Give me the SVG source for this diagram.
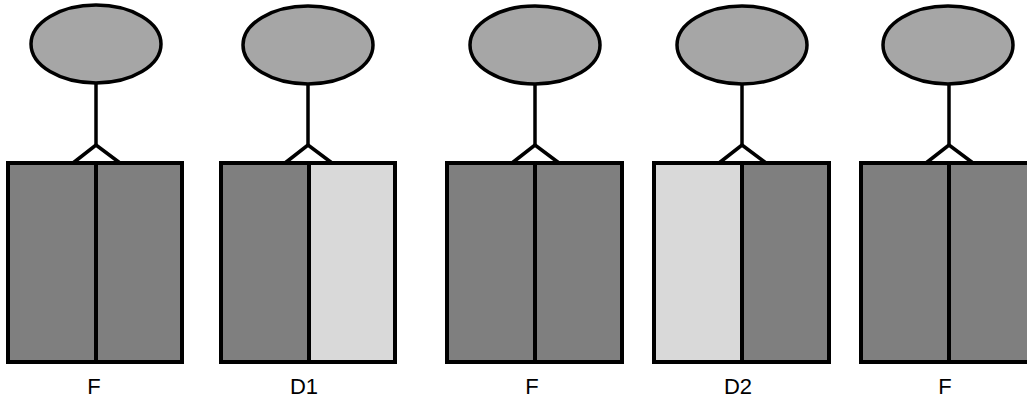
<svg xmlns="http://www.w3.org/2000/svg" width="1027" height="401" viewBox="0 0 1027 401">
  <style>
    .bg { fill: #ffffff; }
    .head { fill: #a6a6a6; stroke: #000; stroke-width: 3.5; }
    .dark { fill: #7f7f7f; }
    .light { fill: #d9d9d9; }
    .frame { fill: none; stroke: #000; stroke-width: 4; }
    .div { stroke: #000; stroke-width: 4; }
    .link { fill: none; stroke: #000; stroke-width: 3.5; stroke-linejoin: miter; }
    .label { font-family: "Liberation Sans", Arial, sans-serif; font-size: 22px; fill: #000; text-anchor: middle; }
  </style>
  <rect class="bg" x="0" y="0" width="1027" height="401"/>

  <!-- stems and forks joining each head to its block -->
  <g id="connectors">
    <polyline class="link" points="96,83 96,145"/>
    <polyline class="link" points="73,163 96,145 120,163"/>
    <polyline class="link" points="308,84 308,145"/>
    <polyline class="link" points="285,163 308,145 332,163"/>
    <polyline class="link" points="535,84 535,145"/>
    <polyline class="link" points="512,163 535,145 559,163"/>
    <polyline class="link" points="742,84 742,145"/>
    <polyline class="link" points="719,163 742,145 766,163"/>
    <polyline class="link" points="949,84 949,145"/>
    <polyline class="link" points="926,163 949,145 973,163"/>
  </g>

  <g id="unit-1">
    <ellipse class="head" cx="96" cy="44" rx="65" ry="39"/>
    <rect class="dark" x="8" y="163" width="88" height="199"/>
    <rect class="dark" x="96" y="163" width="86" height="199"/>
    <rect class="frame" x="8" y="163" width="174" height="199"/>
    <line class="div" x1="96" y1="163" x2="96" y2="362"/>
    <text class="label" x="94" y="394">F</text>
  </g>

  <g id="unit-2">
    <ellipse class="head" cx="308" cy="45" rx="65" ry="39"/>
    <rect class="dark" x="221" y="163" width="88" height="199"/>
    <rect class="light" x="309" y="163" width="86" height="199"/>
    <rect class="frame" x="221" y="163" width="174" height="199"/>
    <line class="div" x1="309" y1="163" x2="309" y2="362"/>
    <text class="label" x="304" y="394">D1</text>
  </g>

  <g id="unit-3">
    <ellipse class="head" cx="535" cy="45" rx="65" ry="39"/>
    <rect class="dark" x="447" y="163" width="88" height="199"/>
    <rect class="dark" x="535" y="163" width="87" height="199"/>
    <rect class="frame" x="447" y="163" width="175" height="199"/>
    <line class="div" x1="535" y1="163" x2="535" y2="362"/>
    <text class="label" x="532" y="394">F</text>
  </g>

  <g id="unit-4">
    <ellipse class="head" cx="742" cy="45" rx="65" ry="39"/>
    <rect class="light" x="654" y="163" width="88" height="199"/>
    <rect class="dark" x="742" y="163" width="87" height="199"/>
    <rect class="frame" x="654" y="163" width="175" height="199"/>
    <line class="div" x1="742" y1="163" x2="742" y2="362"/>
    <text class="label" x="738" y="394">D2</text>
  </g>

  <g id="unit-5">
    <ellipse class="head" cx="948" cy="45" rx="65" ry="39"/>
    <rect class="dark" x="861" y="163" width="88" height="199"/>
    <rect class="dark" x="949" y="163" width="87" height="199"/>
    <rect class="frame" x="861" y="163" width="175" height="199"/>
    <line class="div" x1="949" y1="163" x2="949" y2="362"/>
    <text class="label" x="945" y="394">F</text>
  </g>
</svg>
